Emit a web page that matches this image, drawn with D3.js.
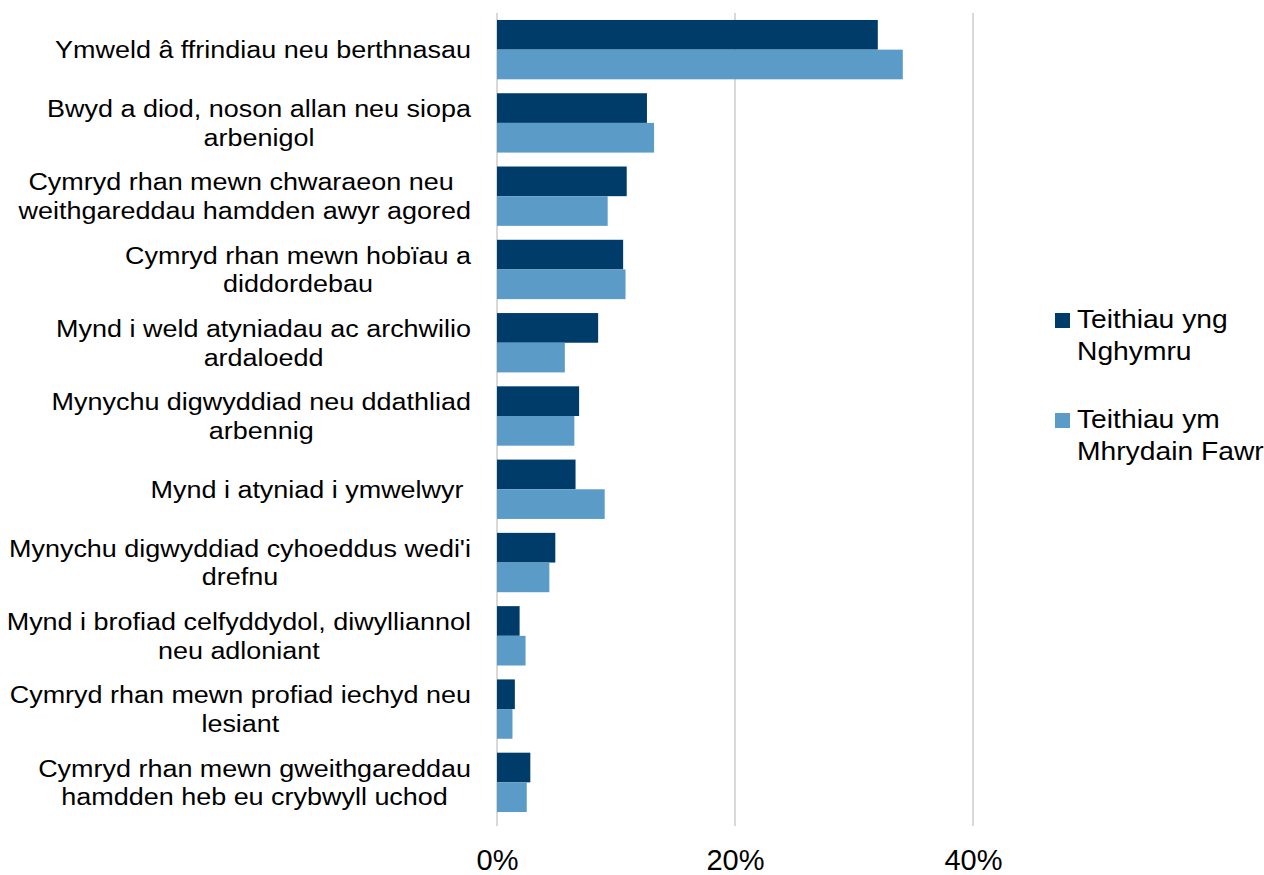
<!DOCTYPE html>
<html>
<head>
<meta charset="utf-8">
<script src="https://cdn.jsdelivr.net/npm/d3@7"></script>
<style>
  html, body { margin: 0; padding: 0; background: #fff; }
  svg { display: block; font-family: "Liberation Sans", Arial, sans-serif; }
</style>
</head>
<body>
<svg id="chart" width="1264" height="875"></svg>
<script>
const categories = [
  ["Ymweld â ffrindiau neu berthnasau"],
  ["Bwyd a diod, noson allan neu siopa", "arbenigol"],
  ["Cymryd rhan mewn chwaraeon neu ", "weithgareddau hamdden awyr agored"],
  ["Cymryd rhan mewn hobïau a", "diddordebau"],
  ["Mynd i weld atyniadau ac archwilio", "ardaloedd"],
  ["Mynychu digwyddiad neu ddathliad", "arbennig"],
  ["Mynd i atyniad i ymwelwyr "],
  ["Mynychu digwyddiad cyhoeddus wedi'i", "drefnu"],
  ["Mynd i brofiad celfyddydol, diwylliannol", "neu adloniant"],
  ["Cymryd rhan mewn profiad iechyd neu", "lesiant"],
  ["Cymryd rhan mewn gweithgareddau", "hamdden heb eu crybwyll uchod"]
];
const seriesNames = [["Teithiau yng", "Nghymru"], ["Teithiau ym", "Mhrydain Fawr"]];
const walesValues = [32.0, 12.6, 10.9, 10.6, 8.5, 6.9, 6.6, 4.9, 1.9, 1.5, 2.8];
const gbValues    = [34.1, 13.2, 9.3, 10.8, 5.7, 6.5, 9.05, 4.4, 2.4, 1.3, 2.5];
const tickValues = [0, 20, 40];
const colors = ["#003C69", "#5B9BC8"];

const svg = d3.select("#chart");
const plotTop = 13, plotBottom = 819, x0 = 497, x40 = 973;

const x = d3.scaleLinear().domain([0, 40]).range([x0, x40]);
const y = d3.scaleBand().domain(d3.range(categories.length))
  .range([plotTop, plotBottom]).paddingInner(0.19).paddingOuter(0.095);
const ySub = d3.scaleBand().domain([0, 1]).range([0, y.bandwidth()]);

// gridlines
svg.append("g").selectAll("line").data(tickValues).join("line")
  .attr("x1", d => x(d)).attr("x2", d => x(d))
  .attr("y1", plotTop).attr("y2", 826)
  .attr("stroke", "#D9D9D9").attr("stroke-width", 2);

// bars
const seriesData = [walesValues, gbValues];
seriesData.forEach((vals, si) => {
  svg.append("g").selectAll("rect").data(vals).join("rect")
    .attr("x", x(0))
    .attr("y", (d, i) => y(i) + ySub(si))
    .attr("width", d => x(d) - x(0))
    .attr("height", ySub.bandwidth())
    .attr("fill", colors[si]);
});

// x tick labels
const xAxis = d3.axisBottom(x).tickValues(tickValues).tickFormat(d => d + "%").tickSize(0).tickPadding(0);
const gx = svg.append("g").attr("transform", "translate(0,870)").call(xAxis);
gx.select(".domain").remove();
gx.selectAll("text").attr("font-size", 29).attr("fill", "#000")
  .attr("font-family", "Liberation Sans, Arial, sans-serif").attr("dy", 0).attr("y", 0);

// category labels (text slightly widened horizontally, as in the reference)
const lineH = 28.5;
const labelRight = 471;
const sx = 1.10;
categories.forEach((lines, i) => {
  const cy = y(i) + y.bandwidth() / 2;
  const g = svg.append("g").attr("transform", `translate(${labelRight},0) scale(${sx},1)`);
  const t = g.append("text").attr("font-size", 24.5).attr("fill", "#000")
    .attr("text-anchor", "middle").style("white-space", "pre");
  const n = lines.length;
  lines.forEach((ln, k) => {
    t.append("tspan").attr("x", 0)
      .attr("y", cy + (k - (n - 1) / 2) * lineH)
      .attr("dy", "0.35em").text(ln);
  });
  let w = 0;
  t.selectAll("tspan").each(function() { w = Math.max(w, this.getComputedTextLength()); });
  t.selectAll("tspan").attr("x", -w / 2);
});

// legend
const legendItems = [{ y: 328, c: colors[0], lines: seriesNames[0] }, { y: 428, c: colors[1], lines: seriesNames[1] }];
const lg = svg.append("g");
legendItems.forEach(it => {
  lg.append("rect").attr("x", 1055).attr("y", it.y - 15).attr("width", 15).attr("height", 15).attr("fill", it.c);
  const tg = lg.append("g").attr("transform", "translate(1077,0) scale(1.13,1)");
  const t = tg.append("text").attr("font-size", 25).attr("fill", "#000");
  it.lines.forEach((ln, k) => {
    t.append("tspan").attr("x", 0).attr("y", it.y + k * 32).text(ln);
  });
});
</script>
</body>
</html>
